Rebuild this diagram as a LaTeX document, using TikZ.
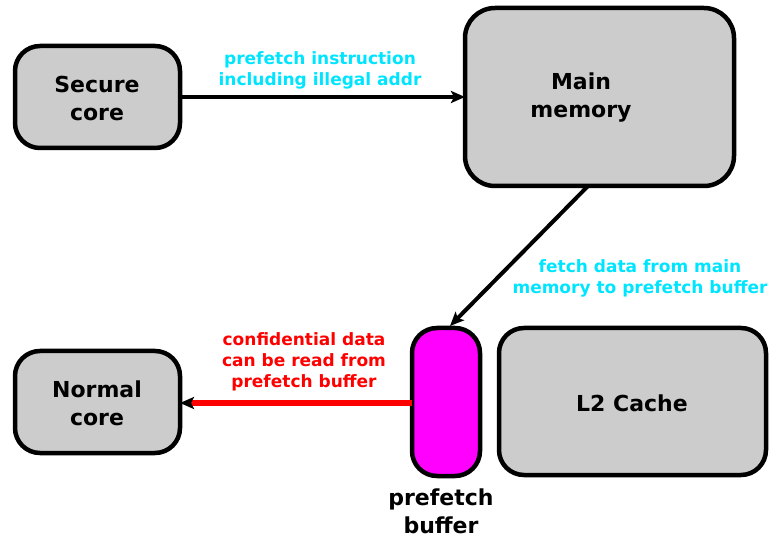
\documentclass[tikz,border=0pt]{standalone}
\usepackage{fontspec}
\setmainfont{DejaVu Sans}
\usetikzlibrary{arrows.meta}
\definecolor{boxgray}{HTML}{CCCCCC}
\definecolor{lblcyan}{HTML}{00E5FF}
\definecolor{lblred}{HTML}{FF0000}
\definecolor{bufmag}{HTML}{FF00FF}
\tikzset{
  blk/.style={draw=black, line width=4.5pt, fill=boxgray, rounded corners=25pt, inner sep=0pt},
  big/.style={font=\fontsize{22}{28}\selectfont\bfseries, align=center},
  lbl/.style={font=\fontsize{17}{21}\selectfont\bfseries, align=center},
  arr/.style={line width=4pt, -{Stealth[length=14pt,width=12pt,inset=3pt]}},
}
\begin{document}
\begin{tikzpicture}[x=1pt,y=-1pt]
\useasboundingbox (0,0) rectangle (772,540);
% boxes
\draw[blk] (15,46) rectangle (180,148);
\node[big] (secure) at (97,98) {Secure\\core};
\coordinate (secR) at (180,97);
\draw[blk, rounded corners=30pt] (465,8) rectangle (734,186);
\node[big] (main) at (581,98) {Main\\memory};
\coordinate (mainL) at (465,97);
\coordinate (mainB) at (588,186);
\draw[blk, fill=bufmag] (412,328) rectangle (480,476);
\coordinate (bufT) at (450,326);
\coordinate (bufL) at (412,403);
\draw[blk] (499,328) rectangle (766,475);
\node[big] (l2) at (632,403) {L2 Cache};
\draw[blk] (15,351) rectangle (180,453);
\node[big] (normal) at (97,403) {Normal\\core};
\coordinate (norR) at (180,403);
\node[big] (buflbl) at (441,511) {prefetch\\buffer};
% arrows
\draw[arr] (secR) -- (mainL);
\draw[arr] (mainB) -- (bufT);
\draw[line width=5pt, draw=lblred, -{Stealth[length=14pt,width=12pt,inset=3pt,color=black,fill=black]}] (bufL) -- (norR);
% labels
\node[lbl, text=lblcyan] (l1) at (320,70) {prefetch instruction\\including illegal addr};
\node[lbl, text=lblcyan] (l2lbl) at (640,278) {fetch data from main\\memory to prefetch buffer};
\node[lbl, text=lblred] (l3) at (304,362) {confidential data\\can be read from\\prefetch buffer};
\end{tikzpicture}
\end{document}
